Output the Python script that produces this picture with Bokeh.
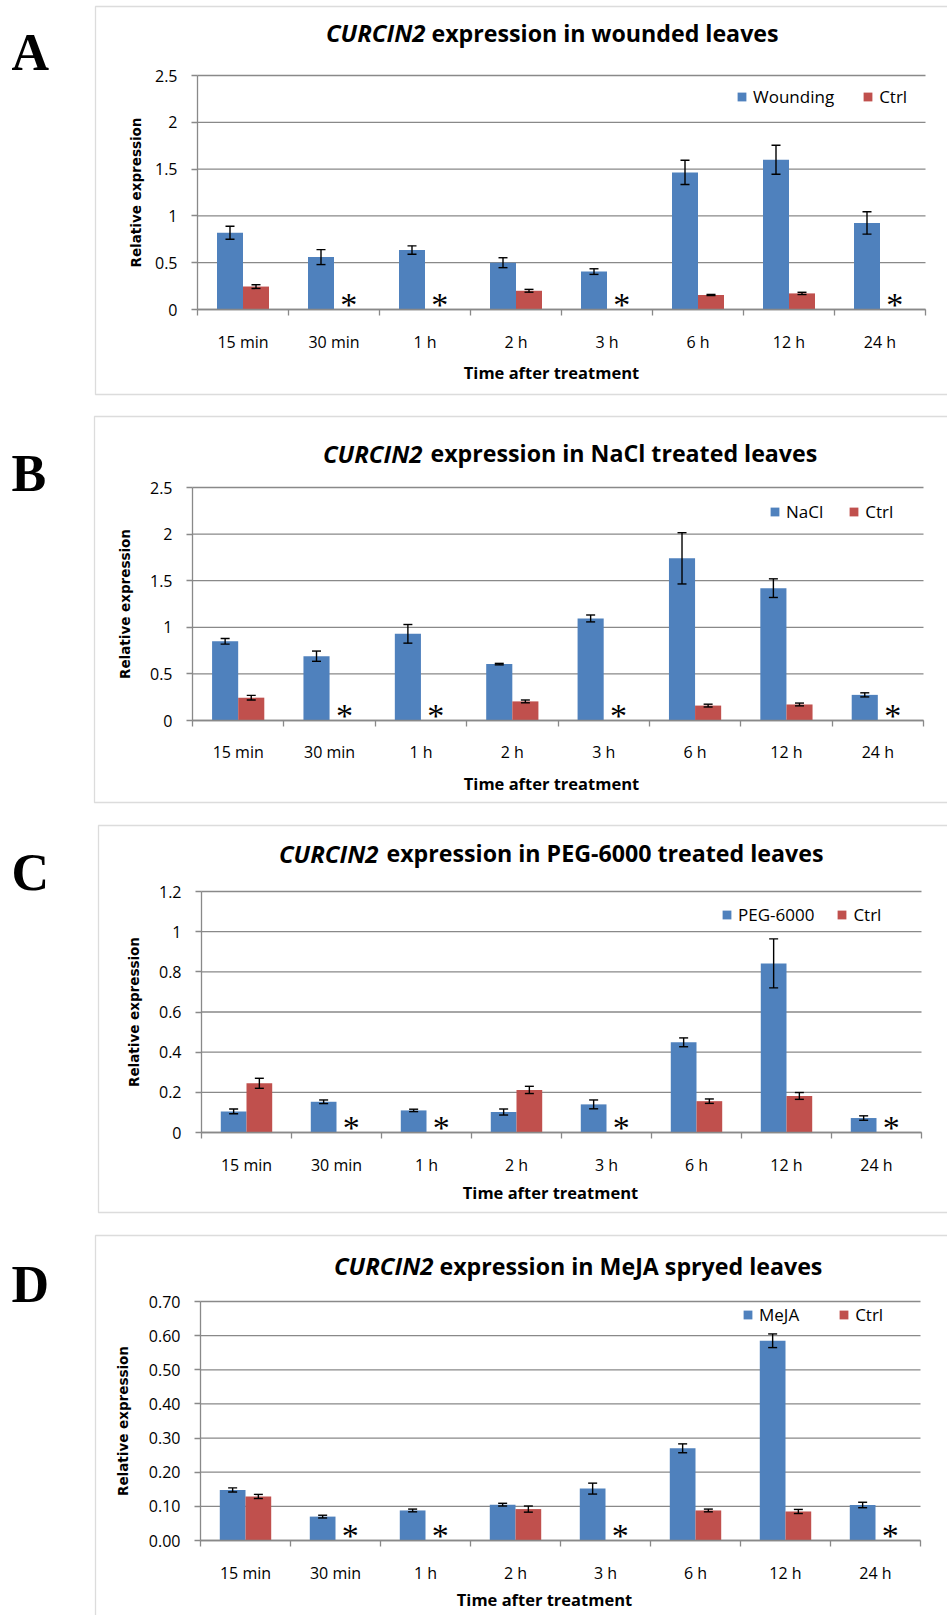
import numpy as np
from bokeh.plotting import figure
from bokeh.models import (ColumnDataSource, Whisker, TeeHead, FixedTicker, Range1d,
                          Legend, LegendItem, Label, BoxAnnotation, CustomJSTickFormatter)
from bokeh.layouts import column
from bokeh.core.properties import value
from bokeh.embed import file_html
from bokeh.resources import INLINE

# ---------------- data ----------------
categories = ["15 min", "30 min", "1 h", "2 h", "3 h", "6 h", "12 h", "24 h"]

# A: wounding
wound = [0.82, 0.56, 0.635, 0.50, 0.405, 1.465, 1.60, 0.925]
wound_err = [0.07, 0.08, 0.045, 0.053, 0.03, 0.13, 0.155, 0.12]
ctrl_a = [0.245, None, None, 0.20, None, 0.155, 0.172, None]
ctrl_a_err = [0.02, None, None, 0.015, None, 0.006, 0.012, None]

# B: NaCl
nacl = [0.85, 0.69, 0.93, 0.605, 1.095, 1.74, 1.42, 0.275]
nacl_err = [0.03, 0.055, 0.10, 0.008, 0.037, 0.275, 0.10, 0.022]
ctrl_b = [0.245, None, None, 0.205, None, 0.16, 0.172, None]
ctrl_b_err = [0.025, None, None, 0.015, None, 0.015, 0.015, None]

# C: PEG-6000
peg = [0.105, 0.153, 0.11, 0.102, 0.14, 0.449, 0.842, 0.072]
peg_err = [0.012, 0.009, 0.006, 0.015, 0.022, 0.022, 0.122, 0.011]
ctrl_c = [0.245, None, None, 0.212, None, 0.156, 0.182, None]
ctrl_c_err = [0.025, None, None, 0.018, None, 0.011, 0.017, None]

# D: MeJA
meja = [0.148, 0.070, 0.088, 0.105, 0.152, 0.270, 0.585, 0.104]
meja_err = [0.006, 0.004, 0.004, 0.004, 0.016, 0.013, 0.020, 0.008]
ctrl_d = [0.129, None, None, 0.092, None, 0.088, 0.085, None]
ctrl_d_err = [0.006, None, None, 0.009, None, 0.004, 0.006, None]

yticks_a = [0, 0.5, 1, 1.5, 2, 2.5]
ytick_labels_a = ["0", "0.5", "1", "1.5", "2", "2.5"]
yticks_c = [0, 0.2, 0.4, 0.6, 0.8, 1.0, 1.2]
ytick_labels_c = ["0", "0.2", "0.4", "0.6", "0.8", "1", "1.2"]
yticks_d = [0, 0.1, 0.2, 0.3, 0.4, 0.5, 0.6, 0.7]
ytick_labels_d = ["0.00", "0.10", "0.20", "0.30", "0.40", "0.50", "0.60", "0.70"]

# ---------------- style ----------------
BLUE = "#4F81BD"
RED = "#C0504D"
GRID = "#898989"
SANS = "Open Sans"
W = 947
BAR_W = 1 / 3.5


def make_panel(cfg):
    H = cfg["height"]
    fl, fr, ft, fb = cfg["frame"]          # where the data area lies on the canvas
    yticks = cfg["yticks"]
    ymax = yticks[-1]
    n = len(categories)

    def X(px):
        return (px - fl) / (fr - fl) * n

    def Y(py):
        return (fb - py) / (fb - ft) * ymax

    p = figure(width=W, height=H, title=None,
               x_range=Range1d(X(0), X(W)), y_range=Range1d(Y(H), Y(0)),
               output_backend="svg", toolbar_location=None,
               min_border=0, min_border_left=0, min_border_right=0,
               min_border_top=0, min_border_bottom=0)
    p.outline_line_color = None
    p.background_fill_color = "white"
    p.border_fill_color = "white"
    p.xgrid.visible = False
    p.ygrid.visible = False

    centers = np.arange(n) + 0.5
    xb = centers - BAR_W / 2
    xr = centers + BAR_W / 2

    # horizontal gridlines at the y ticks, spanning the category axis
    p.segment(x0=np.zeros(len(yticks)), x1=np.full(len(yticks), n),
              y0=yticks, y1=yticks, line_color=GRID, line_width=1.3)

    treat = np.array(cfg["treat"], dtype=float)
    terr = np.array(cfg["treat_err"], dtype=float)
    src_t = ColumnDataSource(dict(x=xb, top=treat, upper=treat + terr, lower=treat - terr))
    rb = p.vbar(x="x", top="top", width=BAR_W, source=src_t,
                fill_color=BLUE, line_color=None)

    idx = [i for i, v in enumerate(cfg["ctrl"]) if v is not None]
    miss = [i for i, v in enumerate(cfg["ctrl"]) if v is None]
    cv = np.array([cfg["ctrl"][i] for i in idx], dtype=float)
    ce = np.array([cfg["ctrl_err"][i] for i in idx], dtype=float)
    src_c = ColumnDataSource(dict(x=xr[idx], top=cv, upper=cv + ce, lower=cv - ce))
    rc = p.vbar(x="x", top="top", width=BAR_W, source=src_c,
                fill_color=RED, line_color=None)

    for src in (src_t, src_c):
        wk = Whisker(source=src, base="x", upper="upper", lower="lower",
                     line_color="black", line_width=1.4,
                     upper_head=TeeHead(size=9, line_color="black", line_width=1.4),
                     lower_head=TeeHead(size=9, line_color="black", line_width=1.4))
        wk.level = "overlay"
        p.add_layout(wk)

    # asterisks where the control was not detected
    p.text(x=xr[miss] + 0.02, y=np.full(len(miss), Y(fb - 5)), text=["*"] * len(miss),
           text_font=value("Liberation Serif"), text_font_size="34px",
           text_align="center", text_baseline="middle", text_color="black")

    # axes, pinned at the data origin
    xa = p.xaxis[0]
    xa.fixed_location = 0
    xa.bounds = (0, n)
    xa.ticker = FixedTicker(ticks=list(centers), minor_ticks=list(range(n + 1)))
    xa.formatter = CustomJSTickFormatter(
        args=dict(labels=categories),
        code="const i = Math.round(tick - 0.5); return (i >= 0 && i < labels.length) ? labels[i] : '';")
    xa.major_tick_out = 0
    xa.major_tick_in = 0
    xa.minor_tick_out = 6
    xa.minor_tick_in = 0
    xa.minor_tick_line_color = GRID
    xa.minor_tick_line_width = 1.3
    xa.axis_line_color = GRID
    xa.axis_line_width = 1.3
    xa.major_label_text_font = SANS
    xa.major_label_text_font_size = "16px"
    xa.major_label_text_color = "black"
    xa.major_label_standoff = cfg["xlab_standoff"]

    ya = p.yaxis[0]
    ya.fixed_location = 0
    ya.bounds = (0, ymax)
    ya.ticker = FixedTicker(ticks=yticks, minor_ticks=[])
    ya.formatter = CustomJSTickFormatter(
        args=dict(vals=yticks, labels=cfg["ylabels"]),
        code="for (let i = 0; i < vals.length; i++) { if (Math.abs(vals[i] - tick) < 1e-9) return labels[i]; } return '';")
    ya.major_tick_out = 6
    ya.major_tick_in = 0
    ya.minor_tick_out = 0
    ya.minor_tick_in = 0
    ya.major_tick_line_color = GRID
    ya.major_tick_line_width = 1.3
    ya.axis_line_color = GRID
    ya.axis_line_width = 1.3
    ya.major_label_text_font = SANS
    ya.major_label_text_font_size = "16px"
    ya.major_label_text_color = "black"
    ya.major_label_standoff = 14

    # axis titles
    xtx, xtb = cfg["xtitle"]
    p.add_layout(Label(x=X(xtx), y=Y(xtb), text="Time after treatment",
                       text_align="center", text_baseline="alphabetic",
                       text_font=SANS, text_font_style="bold",
                       text_font_size="16.5px", text_color="black"))
    ytx, yty = cfg["ytitle"]
    p.add_layout(Label(x=X(ytx), y=Y(yty), text="Relative expression",
                       angle=np.pi / 2, text_align="center", text_baseline="middle",
                       text_font="DejaVu Sans", text_font_style="bold",
                       text_font_size="13.5px", text_color="black"))

    # legend
    lx, lcy, lsp = cfg["legend"]
    legend = Legend(items=[LegendItem(label=cfg["name"], renderers=[rb]),
                           LegendItem(label="Ctrl", renderers=[rc])],
                    orientation="horizontal",
                    location=(lx, H - (lcy + 11)),
                    border_line_color=None, background_fill_alpha=0,
                    padding=0, margin=0, spacing=lsp,
                    glyph_width=11, glyph_height=11, label_height=20,
                    label_standoff=6, label_text_font=SANS,
                    label_text_font_size="17px", label_text_color="black")
    p.add_layout(legend)

    # chart-area border
    bl, bt, bb = cfg["box"]
    p.add_layout(BoxAnnotation(left=X(bl), right=X(W + 30), top=Y(bt), bottom=Y(bb),
                               fill_color=None, fill_alpha=0,
                               line_color="#8C8C8C", line_width=1.3))

    # title (italic gene name + bold rest)
    jx, rx, tb = cfg["title_pos"]
    p.add_layout(Label(x=X(jx), y=Y(tb), text="CURCIN2", text_align="right",
                       text_baseline="alphabetic", text_font=SANS,
                       text_font_style="bold italic", text_font_size="24px",
                       text_color="black"))
    p.add_layout(Label(x=X(rx), y=Y(tb), text=cfg["title_rest"], text_align="left",
                       text_baseline="alphabetic", text_font=SANS,
                       text_font_style="bold", text_font_size="23.2px",
                       text_color="black"))

    # panel letter
    lb = cfg["letter_base"]
    p.add_layout(Label(x=X(11), y=Y(lb), text=cfg["letter"], text_align="left",
                       text_baseline="alphabetic", text_font="Liberation Serif",
                       text_font_style="bold", text_font_size="52px",
                       text_color="black"))
    return p


panels = [
    dict(letter="A", name="Wounding", title_rest="expression in wounded leaves",
         treat=wound, treat_err=wound_err, ctrl=ctrl_a, ctrl_err=ctrl_a_err,
         yticks=yticks_a, ylabels=ytick_labels_a,
         height=410, frame=(197, 925, 75, 309), box=(95, 6, 394),
         title_pos=(425, 431, 32), letter_base=51.5, legend=(736, 97, 28),
         xlab_standoff=15, xtitle=(551, 371.5), ytitle=(135, 192)),
    dict(letter="B", name="NaCl", title_rest="expression in NaCl treated leaves",
         treat=nacl, treat_err=nacl_err, ctrl=ctrl_b, ctrl_err=ctrl_b_err,
         yticks=yticks_a, ylabels=ytick_labels_a,
         height=408, frame=(192, 923, 77, 310), box=(94, 6, 392),
         title_pos=(422, 430, 42.5), letter_base=62.5, legend=(769, 102, 25),
         xlab_standoff=14, xtitle=(551, 372.5), ytitle=(124.5, 193.5)),
    dict(letter="C", name="PEG-6000", title_rest="expression in PEG-6000 treated leaves",
         treat=peg, treat_err=peg_err, ctrl=ctrl_c, ctrl_err=ctrl_c_err,
         yticks=yticks_c, ylabels=ytick_labels_c,
         height=407, frame=(201, 921, 73, 314), box=(98, 7, 394),
         title_pos=(378, 386, 34.5), letter_base=54, legend=(721, 97, 22),
         xlab_standoff=15, xtitle=(550, 373.5), ytitle=(133, 193.5)),
    dict(letter="D", name="MeJA", title_rest="expression in MeJA spryed leaves",
         treat=meja, treat_err=meja_err, ctrl=ctrl_d, ctrl_err=ctrl_d_err,
         yticks=yticks_d, ylabels=ytick_labels_d,
         height=390, frame=(200, 920, 76, 315), box=(95, 10, 500),
         title_pos=(433, 439, 40), letter_base=58.5, legend=(742, 90, 39),
         xlab_standoff=15, xtitle=(544, 374), ytitle=(122.5, 195.5)),
]

figs = [make_panel(c) for c in panels]
layout = column(*figs, spacing=0)
open("out.html", "w").write(file_html(layout, INLINE))
